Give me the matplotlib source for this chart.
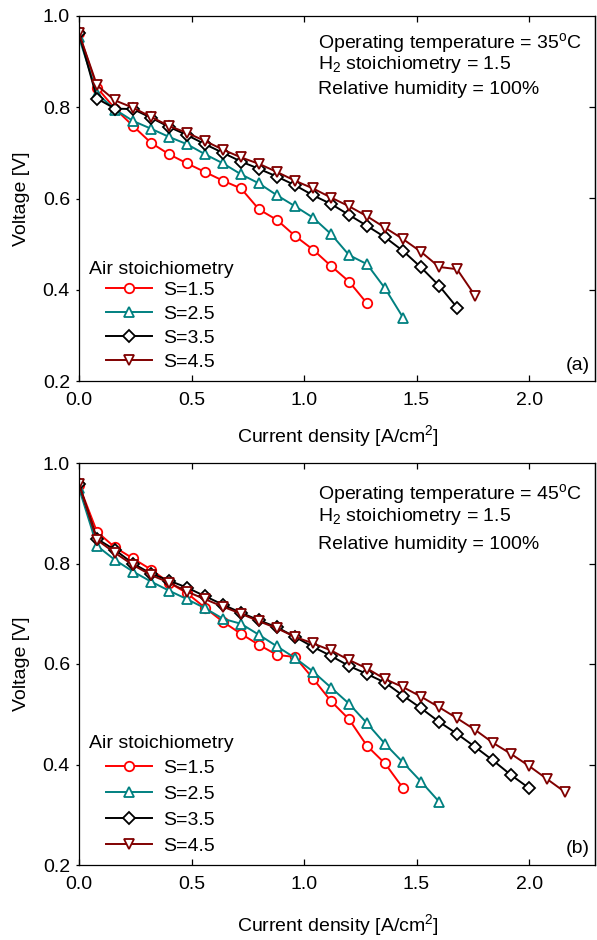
import numpy as np
import matplotlib.pyplot as plt

plt.rcParams['font.family'] = ['Liberation Sans', 'DejaVu Sans']
plt.rcParams['mathtext.fontset'] = 'custom'
plt.rcParams['mathtext.rm'] = 'Liberation Sans'
plt.rcParams['mathtext.it'] = 'Liberation Sans:italic'
plt.rcParams['mathtext.bf'] = 'Liberation Sans:bold'
plt.rcParams['font.size'] = 14

W, H = 597, 940

# current density set points [A/cm2], common to every run
current = [0.00, 0.08, 0.16, 0.24, 0.32, 0.40, 0.48, 0.56, 0.64, 0.72,
           0.80, 0.88, 0.96, 1.04, 1.12, 1.20, 1.28, 1.36, 1.44, 1.52,
           1.60, 1.68, 1.76, 1.84, 1.92, 2.00, 2.08, 2.16]

stoich_labels = ['S=1.5', 'S=2.5', 'S=3.5', 'S=4.5']

# cell voltage [V] at 35 C
v35_s15 = [0.962, 0.843, 0.797, 0.759, 0.722, 0.697, 0.677, 0.658, 0.639, 0.622,
           0.576, 0.553, 0.518, 0.488, 0.452, 0.418, 0.370]
v35_s25 = [0.953, 0.830, 0.795, 0.770, 0.753, 0.735, 0.719, 0.697, 0.677, 0.653,
           0.633, 0.607, 0.583, 0.558, 0.522, 0.476, 0.456, 0.403, 0.339]
v35_s35 = [0.962, 0.819, 0.797, 0.796, 0.777, 0.757, 0.739, 0.719, 0.700, 0.681,
           0.665, 0.648, 0.629, 0.607, 0.588, 0.564, 0.540, 0.515, 0.485, 0.449,
           0.409, 0.361]
v35_s45 = [0.962, 0.848, 0.815, 0.799, 0.779, 0.759, 0.744, 0.726, 0.707, 0.690,
           0.676, 0.658, 0.639, 0.622, 0.602, 0.583, 0.561, 0.536, 0.511, 0.483,
           0.450, 0.445, 0.387]

# cell voltage [V] at 45 C
v45_s15 = [0.956, 0.863, 0.832, 0.810, 0.788, 0.762, 0.741, 0.712, 0.684, 0.660,
           0.638, 0.618, 0.614, 0.571, 0.526, 0.490, 0.437, 0.402, 0.353]
v45_s25 = [0.950, 0.835, 0.807, 0.784, 0.764, 0.746, 0.729, 0.711, 0.690, 0.680,
           0.658, 0.635, 0.612, 0.585, 0.553, 0.521, 0.482, 0.441, 0.404, 0.366,
           0.326]
v45_s35 = [0.958, 0.849, 0.827, 0.800, 0.780, 0.766, 0.752, 0.735, 0.718, 0.702,
           0.687, 0.673, 0.654, 0.634, 0.616, 0.596, 0.580, 0.563, 0.537, 0.512,
           0.485, 0.461, 0.435, 0.408, 0.379, 0.353]
v45_s45 = [0.958, 0.847, 0.821, 0.797, 0.777, 0.762, 0.744, 0.729, 0.714, 0.700,
           0.685, 0.671, 0.654, 0.641, 0.627, 0.608, 0.591, 0.570, 0.554, 0.535,
           0.514, 0.492, 0.469, 0.443, 0.421, 0.397, 0.371, 0.345]

xticks = [0.0, 0.5, 1.0, 1.5, 2.0]
yticks = [0.2, 0.4, 0.6, 0.8, 1.0]

colors = ['#ff0000', '#008080', '#000000', '#800000']
markers = ['o', '^', 'D', 'v']
msizes = [6.8, 7.4, 5.8, 7.4]


def fx(px):
    return px / W


def fy(py):
    return 1 - py / H


def panel(fig, top, bottom, series, temp, tag, sy, leg):
    # sy: vertical stretch of this panel relative to the upper one
    # leg: (title baseline, legend top, row spacing) in pixels
    ax = fig.add_axes([fx(79), fy(bottom), fx(595) - fx(79), (bottom - top) / H])
    lines = []
    for v, c, m, ms in zip(series, colors, markers, msizes):
        ln, = ax.plot(current[:len(v)], v, color=c, lw=1.4, marker=m, ms=ms,
                      mfc='white', mec=c, mew=1.3)
        lines.append(ln)
    ax.set_xlim(0, 2.293)
    ax.set_ylim(0.2, 1.0)
    ax.set_xticks(xticks)
    ax.set_xticklabels(['%.1f' % t for t in xticks])
    ax.set_yticks(yticks)
    ax.set_yticklabels(['%.1f' % t for t in yticks])
    ax.tick_params(axis='x', direction='in', top=True, length=4, width=0.9, pad=8)
    ax.tick_params(axis='y', direction='out', length=2.5, width=0.9, pad=4)
    sec = ax.secondary_yaxis('right')
    sec.set_yticks(yticks[1:-1])
    sec.tick_params(direction='in', length=4, width=0.9, labelright=False)
    sec.spines['right'].set_linewidth(0.9)
    for s in ax.spines.values():
        s.set_linewidth(0.9)

    fig.text(fx(22), fy((top + bottom) / 2), 'Voltage [V]', rotation=90,
             ha='center', va='center')
    fig.text(fx(338), fy(bottom + 55 * sy), r'Current density [A/cm$^2$]',
             ha='center', va='center')

    fig.text(fx(318), fy(top + 32.3 * sy),
             r'Operating temperature = %d$^\mathrm{o}$C' % temp, va='baseline')
    fig.text(fx(318), fy(top + 52.7 * sy), r'H$_2$ stoichiometry = 1.5', va='baseline')
    fig.text(fx(318), fy(top + 78 * sy), 'Relative humidity = 100%', va='baseline')
    fig.text(fx(590), fy(bottom - 11 * sy), tag, ha='right', va='baseline')

    title_base, leg_top, spacing = leg
    fig.text(fx(89), fy(title_base), 'Air stoichiometry', va='baseline')
    ax.legend(lines, stoich_labels, loc='upper left',
              bbox_to_anchor=(fx(106), fy(leg_top)),
              bbox_transform=fig.transFigure, frameon=False, borderpad=0,
              borderaxespad=0, handlelength=2.37, handletextpad=0.57,
              labelspacing=spacing, numpoints=1, fontsize=14)
    return ax


fig = plt.figure(figsize=(W / 100, H / 100), dpi=100)
panel(fig, 16, 381, [v35_s15, v35_s25, v35_s35, v35_s45], 35, '(a)', 1.0,
      (273.5, 281.5, 0.33))
panel(fig, 463, 865, [v45_s15, v45_s25, v45_s35, v45_s45], 45, '(b)', 1.1,
      (748.5, 759, 0.43))
fig.savefig('out.png', dpi=100)
